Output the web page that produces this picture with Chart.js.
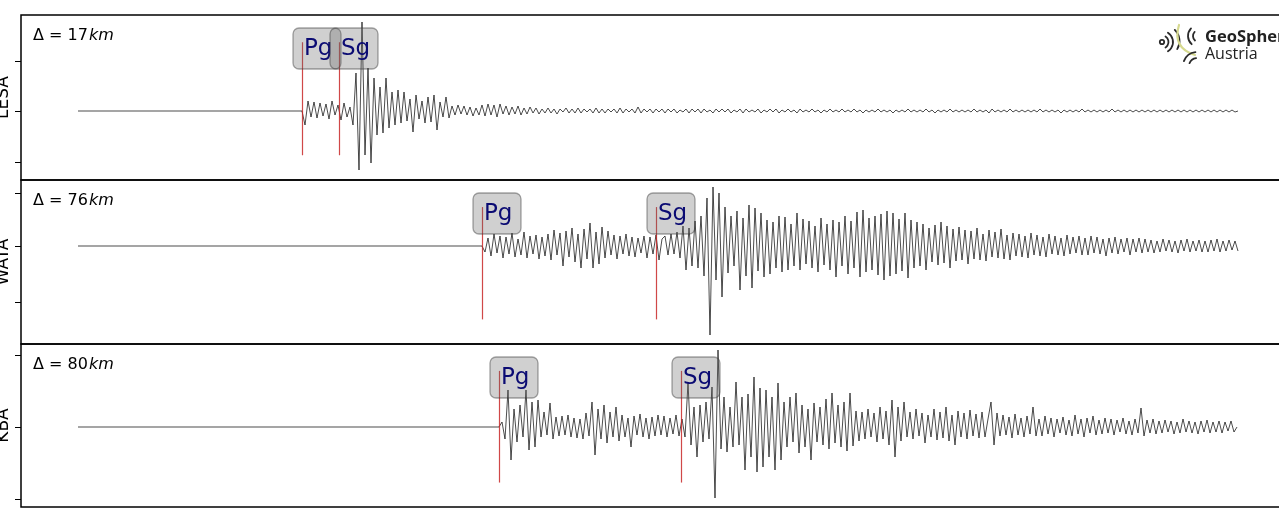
<!DOCTYPE html>
<html>
<head>
<meta charset="utf-8">
<script src="https://cdn.jsdelivr.net/npm/chart.js@4.4.0/dist/chart.umd.min.js"></script>
<style>
  html, body { margin: 0; padding: 0; background: #fff; overflow: hidden; width: 1279px; height: 511px; }
  canvas { position: absolute; left: 0; }
</style>
</head>
<body>
<canvas id="c0"></canvas>
<canvas id="c1"></canvas>
<canvas id="c2"></canvas>
<script>
// seconds from trace start; amplitudes are relative (up = positive)
const stations = ['LESA', 'WATA', 'KBA'];
const distancesKm = [17, 76, 80];
const pgTimes = [22.4, 40.4, 42.1];
const sgTimes = [26.1, 57.8, 60.3];
const sampleStep = 0.3;

// samples start one step after the Pg pick, flat (0) before it
const lesaAmp = [
    -14, 10, -6, 9, -7, 8, -5, 7, -8, 10, -4, 6, -9, 8, -6, 4, -14, 38, -59, 89,
    -44, 43, -52, 33, -24, 24, -22, 33, -17, 19, -14, 21, -12, 19, -10, 12, -21, 16, -8, 10,
    -12, 14, -11, 16, -19, 9, -6, 14, -7, 5, -4, 6, -3, 5, -4, 4, -5, 3, -4, 6,
    -5, 7, -4, 6, -6, 7, -3, 5, -4, 4, -3, 5, -4, 3, -3, 4, -2, 3, -3, 2,
    -2, 3, -2, 2, -3, 2, -1, 3, -2, 2, -2, 3, -2, 2, -1, 2, -2, 3, -2, 2,
    -2, 2, -1, 2, -2, 3, -2, 2, -1, 2, -2, 4, -2, 2, -1, 2, -2, 2, -1, 2,
    -2, 2, -1, 2, -2, 1, -1, 2, -2, 2, -1, 2, -2, 2, -1, 1, -2, 2, -1, 2,
    -1, 2, -2, 1, -1, 2, -2, 2, -1, 1, -1, 2, -2, 1, -1, 2, -1, 2, -2, 1,
    -1, 2, -1, 1, -2, 2, -1, 1, -1, 2, -1, 1, -2, 1, -1, 2, -1, 1, -1, 2,
    -1, 1, -1, 2, -1, 1, -2, 1, -1, 1, -1, 2, -1, 1, -1, 1, -2, 1, -1, 1,
    -1, 2, -1, 1, -1, 1, -1, 2, -1, 1, -2, 1, -1, 1, -1, 2, -1, 1, -1, 1,
    -1, 1, -1, 2, -1, 1, -1, 1, -2, 2, -1, 1, -1, 1, -1, 2, -1, 1, -1, 1,
    -1, 1, -1, 1, -1, 2, -1, 1, -1, 1, -1, 1, -2, 1, -1, 1, -1, 1, -1, 2,
    -1, 1, -1, 1, -1, 1, -1, 1, -1, 2, -1, 1, -1, 1, -1, 1, -1, 1, -1, 1,
    -1, 1, -1, 1, -1, 1, -1, 1, -1, 1, -1, 1, -1, 1, -1, 1, -1, 1, -1, 1,
    -1, 1, -1, 1, -1, 1, -1, 1, -1, 1, -1, 0
];

const wataAmp = [
    -6, 8, -10, 12, -7, 10, -12, 9, -8, 13, -11, 7, -9, 14, -12, 10, -8, 11, -13, 9,
    -10, 12, -14, 16, -9, 13, -20, 15, -11, 18, -16, 12, -22, 17, -13, 23, -22, 14, -18, 19,
    -12, 15, -9, 11, -13, 10, -8, 12, -10, 9, -11, 8, -7, 10, -12, 9, -8, 11, -14, 7,
    10, -9, 12, -8, 14, -12, 20, -24, 18, -20, 25, -22, 30, -30, 48, -89, 59, -34, 53, -51,
    39, -27, 30, -20, 35, -44, 28, -30, 41, -42, 38, -25, 33, -31, 26, -28, 24, -22, 30, -26,
    29, -24, 22, -20, 33, -24, 27, -18, 25, -22, 20, -26, 28, -19, 22, -24, 26, -31, 24, -20,
    30, -28, 25, -22, 34, -31, 36, -26, 28, -24, 30, -29, 32, -34, 35, -30, 33, -28, 27, -25,
    33, -32, 26, -22, 24, -20, 22, -24, 18, -16, 21, -19, 24, -17, 20, -22, 17, -15, 19, -14,
    16, -18, 15, -13, 18, -14, 12, -15, 16, -11, 14, -12, 17, -13, 11, -14, 13, -10, 12, -11,
    10, -12, 13, -9, 11, -10, 9, -11, 12, -8, 10, -9, 8, -10, 11, -8, 9, -7, 10, -9,
    8, -9, 10, -7, 9, -8, 7, -10, 8, -7, 9, -8, 7, -6, 8, -9, 7, -6, 8, -7,
    7, -6, 6, -7, 5, -6, 7, -5, 6, -6, 5, -7, 6, -5, 7, -6, 5, -5, 6, -6,
    5, -6, 6, -5, 7, -6, 5, -5, 6, -4, 5, -5
];

const kbaAmp = [
    5, -12, 37, -33, 18, -15, 22, -10, 37, -23, 25, -20, 27, -10, 15, -8, 24, -12, 10, -9,
    11, -8, 12, -10, 9, -11, 8, -12, 14, -9, 25, -28, 18, -12, 22, -16, 15, -10, 20, -14,
    12, -10, 9, -20, 11, -8, 13, -10, 9, -12, 10, -9, 12, -8, 11, -10, 9, -7, 12, -9,
    8, -10, 44, -18, 20, -30, 22, -15, 25, -12, 40, -71, 77, -22, 30, -25, 20, -20, 45, -18,
    30, -43, 33, -30, 50, -45, 39, -40, 37, -30, 30, -43, 44, -33, 25, -20, 30, -15, 34, -26,
    22, -20, 18, -33, 24, -15, 20, -18, 28, -22, 34, -16, 22, -20, 25, -24, 34, -19, 16, -14,
    15, -12, 18, -10, 14, -15, 20, -12, 16, -18, 27, -30, 20, -14, 25, -10, 15, -12, 18, -9,
    14, -16, 12, -10, 18, -13, 15, -11, 20, -14, 12, -18, 16, -10, 14, -12, 17, -9, 13, -11,
    15, -10, 8, 25, -18, 14, -9, 12, -8, 10, -11, 13, -8, 9, -10, 11, -7, 20, -9, 8,
    -9, 11, -7, 9, -10, 8, -6, 10, -8, 7, -9, 12, -7, 8, -10, 9, -6, 11, -8, 7,
    -7, 9, -6, 8, -8, 7, -5, 9, -7, 6, -8, 8, -6, 19, -9, 7, -6, 8, -7, 6,
    -6, 7, -5, 6, -7, 5, -6, 8, -5, 6, -6, 5, -7, 6, -5, 7, -6, 5, -5, 6,
    -6, 5, -4, 6, -5, 0
];

const amps = [lesaAmp, wataAmp, kbaAmp];
const yTicks = [[-51, 0, 50], [-56, 0, 53], [-72, 0, 72]];

// page layout of the three stacked panels
const panelTop = [15, 180, 344];
const panelBottom = [180, 344, 507];
const baseline = [111, 246, 427];
const canvasW = 1300;
const plotLeft = 21;
const pxPerSec = 10;
const traceStartPx = 78;

const decor = {
    id: 'decor',
    afterDatasetsDraw(chart, args, o) {
        const { ctx, chartArea: a, scales: { x, y } } = chart;
        const h = a.bottom - a.top;
        ctx.save();

        // axes frame
        ctx.strokeStyle = '#000';
        ctx.lineWidth = 1.5;
        ctx.strokeRect(a.left, a.top, a.right - a.left, h);

        // y ticks, no labels
        ctx.lineWidth = 1;
        o.ticks.forEach(v => {
            const py = Math.round(y.getPixelForValue(v)) + 0.5;
            ctx.beginPath();
            ctx.moveTo(a.left - 6, py);
            ctx.lineTo(a.left, py);
            ctx.stroke();
        });

        // station name (rotated y label, clipped by the page edge)
        ctx.save();
        ctx.translate(7.5, (a.top + a.bottom) / 2);
        ctx.rotate(-Math.PI / 2);
        ctx.font = '17px "DejaVu Sans"';
        ctx.textAlign = 'center';
        ctx.textBaseline = 'alphabetic';
        ctx.fillStyle = '#000';
        ctx.fillText(o.station, 0, 0);
        ctx.restore();

        // distance
        ctx.font = '16px "DejaVu Sans"';
        ctx.textAlign = 'left';
        ctx.textBaseline = 'alphabetic';
        ctx.fillStyle = '#000';
        const dTxt = 'Δ = ' + o.dist;
        ctx.fillText(dTxt, a.left + 12, a.top + 24.5);
        const w = ctx.measureText(dTxt).width;
        ctx.font = 'italic 16px "DejaVu Sans"';
        ctx.fillText('km', a.left + 12 + w + 1, a.top + 24.5);

        // phase picks
        const picks = [['Pg', o.pg], ['Sg', o.sg]];
        ctx.strokeStyle = 'rgba(200, 40, 40, 0.85)';
        ctx.lineWidth = 1.2;
        picks.forEach(([, t]) => {
            const px = Math.round(x.getPixelForValue(t)) + 0.5;
            ctx.beginPath();
            ctx.moveTo(px, a.top + 0.165 * h);
            ctx.lineTo(px, a.top + 0.85 * h);
            ctx.stroke();
        });
        picks.forEach(([name, t]) => {
            const px = x.getPixelForValue(t);
            ctx.beginPath();
            ctx.roundRect(px - 9, a.top + 13, 48, 41, 6);
            ctx.fillStyle = 'rgba(100, 100, 100, 0.3)';
            ctx.fill();
            ctx.strokeStyle = 'rgba(60, 60, 60, 0.45)';
            ctx.lineWidth = 1.3;
            ctx.stroke();
            ctx.font = '23px "DejaVu Sans"';
            ctx.fillStyle = '#0b0b73';
            ctx.fillText(name, px + 2, a.top + 40);
        });

        // logo (top panel only)
        if (o.logo) {
            const t0 = a.top;
            ctx.lineCap = 'round';
            ctx.strokeStyle = '#2a2a2a';
            ctx.lineWidth = 1.8;
            const cx = 1162, cy = t0 + 27;
            ctx.beginPath(); ctx.arc(cx, cy, 2.2, 0, Math.PI * 2); ctx.stroke();
            [6.5, 11].forEach(r => {
                ctx.beginPath(); ctx.arc(cx, cy, r, -1.0, 1.0); ctx.stroke();
            });
            ctx.beginPath(); ctx.arc(cx + 2, cy - 1, 15.5, -0.8, 0.55); ctx.stroke();
            ctx.strokeStyle = '#d6d98f';
            ctx.lineWidth = 2.2;
            ctx.beginPath();
            ctx.moveTo(1179, t0 + 10);
            ctx.quadraticCurveTo(1172, t0 + 33, 1195, t0 + 40);
            ctx.stroke();
            ctx.strokeStyle = '#2a2a2a';
            ctx.lineWidth = 1.8;
            ctx.beginPath(); ctx.arc(1199, t0 + 21, 11, 2.3, 3.9); ctx.stroke();
            ctx.beginPath(); ctx.arc(1199, t0 + 21, 6, 2.3, 3.9); ctx.stroke();
            ctx.beginPath(); ctx.arc(1197, t0 + 51, 14, 3.5, 4.6); ctx.stroke();
            ctx.beginPath(); ctx.arc(1197, t0 + 51, 8, 3.5, 4.6); ctx.stroke();
            ctx.fillStyle = '#222';
            ctx.font = 'bold 16.5px "Open Sans"';
            ctx.fillText('GeoSphere', 1205, t0 + 27);
            ctx.font = '16px "Open Sans"';
            ctx.fillText('Austria', 1205, t0 + 44);
        }
        ctx.restore();
    }
};

stations.forEach((name, k) => {
    const cv = document.getElementById('c' + k);
    const ph = panelBottom[k] - panelTop[k];
    cv.width = canvasW;
    cv.height = ph + 4;
    cv.style.top = (panelTop[k] - 2) + 'px';
    cv.style.width = canvasW + 'px';
    cv.style.height = (ph + 4) + 'px';

    const pts = [{ x: 0, y: 0 }, { x: pgTimes[k], y: 0 }].concat(
        amps[k].map((v, i) => ({ x: pgTimes[k] + (i + 1) * sampleStep, y: v }))
    );
    const xMin = (plotLeft - traceStartPx) / pxPerSec;
    const xMax = xMin + (canvasW - plotLeft) / pxPerSec;

    new Chart(cv, {
        type: 'line',
        data: {
            datasets: [{
                data: pts,
                borderColor: 'rgba(20, 20, 20, 0.9)',
                borderWidth: 0.85,
                pointRadius: 0,
                tension: 0,
                fill: false
            }]
        },
        options: {
            responsive: false,
            animation: false,
            devicePixelRatio: 1,
            layout: { padding: { left: plotLeft, right: 0, top: 2, bottom: 2 } },
            scales: {
                x: { type: 'linear', min: xMin, max: xMax, display: false },
                y: {
                    min: -(panelBottom[k] - baseline[k]),
                    max: baseline[k] - panelTop[k],
                    display: false
                }
            },
            plugins: {
                legend: { display: false },
                tooltip: { enabled: false },
                decor: {
                    station: name,
                    dist: distancesKm[k],
                    pg: pgTimes[k],
                    sg: sgTimes[k],
                    ticks: yTicks[k],
                    logo: k === 0
                }
            }
        },
        plugins: [decor]
    });
});
</script>
</body>
</html>
